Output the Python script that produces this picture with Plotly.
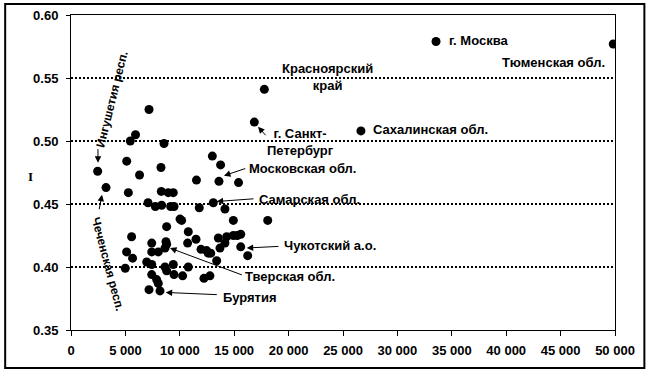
import plotly.graph_objects as go

# --- data ---
income = [2450, 3220, 7170, 5930, 5450, 5120, 6300, 8550, 8270, 17770,
          16850, 11530, 12990, 13750, 13600, 15400, 33550, 49840, 26650, 5270,
          7080, 7750, 8300, 8330, 8940, 9400, 9160, 9470, 10020, 10170,
          11790, 13080, 14150, 14920, 18080, 8790, 10780, 11490, 10720, 13540,
          14310, 14920, 15280, 15600, 14150, 13690, 15600, 16240, 11950, 12470,
          12620, 12840, 13390, 12220, 12770, 10260, 10780, 9400, 9470, 8640,
          8790, 8730, 8790, 8640, 7420, 7420, 8020, 6960, 7420, 7420,
          7870, 8020, 7170, 8180, 5110, 5660, 5570, 4990]
index_i = [0.476, 0.463, 0.525, 0.505, 0.500, 0.484, 0.473, 0.498, 0.479, 0.541,
           0.515, 0.469, 0.488, 0.481, 0.468, 0.467, 0.579, 0.577, 0.508, 0.459,
           0.451, 0.448, 0.460, 0.449, 0.459, 0.459, 0.448, 0.448, 0.438, 0.437,
           0.447, 0.451, 0.446, 0.437, 0.437, 0.432, 0.428, 0.422, 0.419, 0.423,
           0.424, 0.425, 0.425, 0.426, 0.419, 0.415, 0.416, 0.409, 0.414, 0.413,
           0.411, 0.411, 0.405, 0.391, 0.393, 0.393, 0.400, 0.402, 0.394, 0.400,
           0.397, 0.420, 0.418, 0.415, 0.419, 0.412, 0.412, 0.404, 0.402, 0.394,
           0.390, 0.387, 0.382, 0.381, 0.412, 0.407, 0.424, 0.399]

x_ticks = [0, 5000, 10000, 15000, 20000, 25000, 30000, 35000, 40000, 45000, 50000]
x_tick_labels = ["0", "5 000", "10 000", "15 000", "20 000", "25 000", "30 000",
                 "35 000", "40 000", "45 000", "50 000"]
y_ticks = [0.35, 0.40, 0.45, 0.50, 0.55, 0.60]
y_tick_labels = ["0.35", "0.40", "0.45", "0.50", "0.55", "0.60"]

# plain labels: (text, x, y, xanchor)
labels = [
    ("г. Москва", 34560, 0.5796, "left"),
    ("Тюменская обл.", 49260, 0.5621, "right"),
    ("Красноярский<br>край", 23530, 0.5506, "center"),
    ("г. Санкт-<br>Петербург", 21050, 0.4990, "center"),
    ("Сахалинская обл.", 27570, 0.5090, "left"),
    ("Московская обл.", 16180, 0.4780, "left"),
    ("Самарская обл.", 17100, 0.4534, "left"),
    ("Чукотский а.о.", 19390, 0.4169, "left"),
    ("Тверская обл.", 15810, 0.3925, "left"),
    ("Бурятия", 13790, 0.3757, "left"),
]
# arrows: (head x, head y, tail x, tail y)
arrows = [
    (17190, 0.5113, 18010, 0.5034),
    (14060, 0.4725, 16150, 0.4785),
    (13390, 0.4520, 16910, 0.4542),
    (16150, 0.4151, 19210, 0.4164),
    (9100, 0.4150, 15840, 0.3933),
    (8700, 0.3798, 13540, 0.3780),
    (2480, 0.4828, 2480, 0.4947),
    (2850, 0.4574, 2570, 0.4447),
]
# rotated labels: (text, x, y, angle)
rotated = [
    ("Ингушетия респ.", 3800, 0.5330, -76),
    ("Чеченская респ.", 3350, 0.4020, 75),
]

FONT = "Liberation Sans, Arial, sans-serif"
FS = 13

fig = go.Figure()
fig.add_trace(go.Scatter(
    x=income, y=index_i, mode="markers",
    marker=dict(color="black", size=9),
    hoverinfo="x+y", showlegend=False,
))

ann = []
for t, x, y, xa in labels:
    ann.append(dict(text="<b>%s</b>" % t, x=x, y=y, xref="x", yref="y",
                    xanchor=xa, yanchor="middle", showarrow=False,
                    font=dict(family=FONT, size=FS, color="black")))
for hx, hy, tx, ty in arrows:
    ann.append(dict(text="", x=hx, y=hy, ax=tx, ay=ty, xref="x", yref="y",
                    axref="x", ayref="y", showarrow=True, arrowhead=2,
                    arrowsize=1.3, arrowwidth=1, arrowcolor="black", standoff=0))
for t, x, y, a in rotated:
    ann.append(dict(text="<b>%s</b>" % t, x=x, y=y, xref="x", yref="y",
                    textangle=a, showarrow=False,
                    font=dict(family=FONT, size=12, color="black")))
ann.append(dict(text="<b>I</b>", x=-0.0827, y=0.486, xref="paper", yref="paper",
                showarrow=False, font=dict(family="Liberation Serif, Times New Roman, serif",
                                           size=13, color="black")))

fig.update_layout(
    width=651, height=373,
    margin=dict(l=71, r=36, t=15, b=43, autoexpand=False),
    paper_bgcolor="white", plot_bgcolor="white",
    annotations=ann,
    shapes=[dict(type="rect", xref="paper", yref="paper",
                 x0=-0.121, x1=1.054, y0=-0.121, y1=1.035,
                 line=dict(color="black", width=2), fillcolor="rgba(0,0,0,0)",
                 layer="below")],
    xaxis=dict(range=[0, 50000], tickvals=x_ticks, ticktext=x_tick_labels,
               showgrid=False, zeroline=False, showline=True, linecolor="black",
               linewidth=1, mirror=True, ticks="outside", ticklen=5,
               tickcolor="black", ticklabelstandoff=3, automargin=False,
               tickfont=dict(family=FONT, size=FS, color="black", weight="bold")),
    yaxis=dict(range=[0.35, 0.60], tickvals=y_ticks, ticktext=y_tick_labels,
               showgrid=True, gridcolor="black", gridwidth=1.5, griddash="2px,2px",
               zeroline=False, showline=True, linecolor="black",
               linewidth=1, mirror=True, ticks="outside", ticklen=4,
               tickcolor="black", ticklabelstandoff=5, automargin=False,
               tickfont=dict(family=FONT, size=FS, color="black", weight="bold")),
)

fig.write_html("out.html", config={"displayModeBar": False},
               post_script="document.body.style.margin='0';document.body.style.overflow='hidden';")
